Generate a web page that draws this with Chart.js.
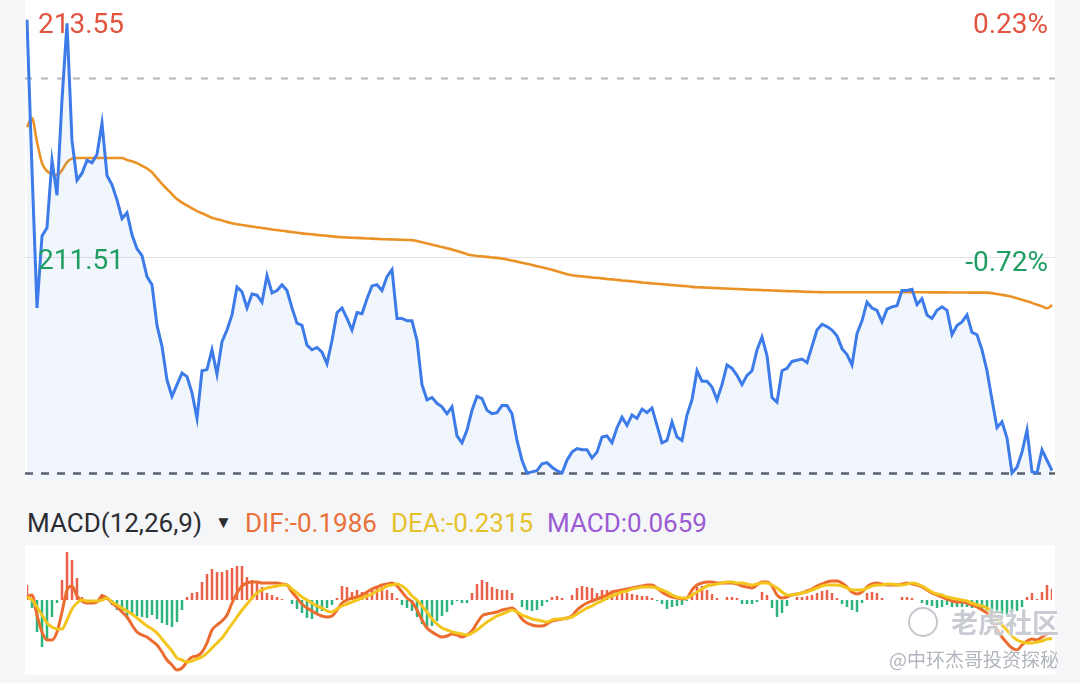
<!DOCTYPE html>
<html>
<head>
<meta charset="utf-8">
<script src="https://cdn.jsdelivr.net/npm/chart.js@4.4.0/dist/chart.umd.min.js"></script>
<style>
html, body { margin: 0; padding: 0; }
body { width: 1080px; height: 683px; background: #f5f6f8; position: relative; overflow: hidden; font-family: Roboto, "Noto Sans", sans-serif; }
.panel { position: absolute; background: #fff; }
#pricePanel { left: 25px; top: 0; width: 1030px; height: 480px; }
#macdPanel { left: 25px; top: 545px; width: 1030px; height: 130px; }
.lbl { position: absolute; font-size: 28px; line-height: 28px; white-space: nowrap; z-index: 5; }
.up { color: #e2543f; }
.down { color: #1f9e63; }
.hdr { position: absolute; top: 510px; font-size: 26px; line-height: 26px; white-space: nowrap; }
.wm { position: absolute; white-space: nowrap; z-index: 6; font-family: "Noto Sans CJK SC", sans-serif; text-shadow: 0 0 2px #fff, 0 0 2px #fff; }
</style>
</head>
<body>
<div class="panel" id="pricePanel"><canvas id="priceChart"></canvas></div>
<div class="panel" id="macdPanel"><canvas id="macdChart"></canvas></div>

<div class="lbl up" style="left:38px; top:10px;">213.55</div>
<div class="lbl up" style="right:32px; top:10px;">0.23%</div>
<div class="lbl down" style="left:38px; top:246px;">211.51</div>
<div class="lbl down" style="right:32px; top:248px;">-0.72%</div>

<div class="hdr" style="left:27px; color:#2b2d33;">MACD(12,26,9)</div>
<div class="hdr" style="left:215px; top:514px; font-size:17px; line-height:17px; color:#2b2d33;">▼</div>
<div class="hdr" style="left:245px; color:#e8703a;">DIF:-0.1986</div>
<div class="hdr" style="left:391px; color:#e6c12c;">DEA:-0.2315</div>
<div class="hdr" style="left:547px; color:#9b5bd3;">MACD:0.0659</div>

<div style="position:absolute; left:908px; top:607px; width:26px; height:26px; border:2px solid rgba(170,175,185,0.7); border-radius:50%; z-index:6;"></div>
<div class="wm" style="left:951px; top:605px; font-size:27px; line-height:34px; font-weight:700; color:rgba(165,170,180,0.6);">老虎社区</div>
<div class="wm" style="left:889px; top:647px; font-size:19px; line-height:24px; color:rgba(150,155,165,0.75);">@中环杰哥投资探秘</div>

<script>
// intraday price, one sample every ~2 minutes
const prices = [
  213.55, 212.26, 211.07, 211.69, 211.76, 212.34, 212.04, 212.86, 213.52, 212.51,
  212.17, 212.23, 212.34, 212.32, 212.39, 212.66, 212.21, 212.13, 212.00, 211.84,
  211.89, 211.70, 211.58, 211.52, 211.34, 211.27, 210.92, 210.74, 210.45, 210.31,
  210.41, 210.51, 210.48, 210.34, 210.12, 210.53, 210.54, 210.71, 210.50, 210.78,
  210.88, 211.01, 211.25, 211.21, 211.07, 211.19, 211.18, 211.12, 211.35, 211.20,
  211.22, 211.27, 211.22, 211.07, 210.94, 210.92, 210.75, 210.71, 210.73, 210.69,
  210.59, 210.79, 211.03, 211.07, 210.98, 210.88, 211.03, 211.02, 211.15, 211.26,
  211.27, 211.22, 211.34, 211.40, 210.98, 210.98, 210.96, 210.96, 210.79, 210.41,
  210.28, 210.30, 210.25, 210.22, 210.16, 210.22, 209.97, 209.91, 210.02, 210.19,
  210.31, 210.29, 210.19, 210.16, 210.17, 210.23, 210.23, 210.16, 209.93, 209.76,
  209.65, 209.66, 209.67, 209.73, 209.74, 209.70, 209.67, 209.65, 209.76, 209.83,
  209.86, 209.85, 209.85, 209.78, 209.83, 209.96, 209.97, 209.91, 210.04, 210.13,
  210.06, 210.15, 210.12, 210.20, 210.17, 210.21, 210.06, 209.91, 209.93, 210.09,
  209.96, 209.93, 210.15, 210.28, 210.53, 210.44, 210.44, 210.39, 210.28, 210.41,
  210.58, 210.55, 210.49, 210.41, 210.49, 210.53, 210.71, 210.82, 210.66, 210.30,
  210.26, 210.53, 210.55, 210.61, 210.62, 210.63, 210.60, 210.74, 210.88, 210.93,
  210.91, 210.88, 210.83, 210.72, 210.67, 210.58, 210.85, 210.96, 211.12, 211.07,
  211.05, 210.95, 211.06, 211.08, 211.09, 211.22, 211.22, 211.23, 211.10, 211.15,
  211.01, 210.98, 211.05, 211.08, 211.05, 210.84, 210.92, 210.95, 211.01, 210.86,
  210.84, 210.71, 210.53, 210.28, 210.04, 210.09, 209.95, 209.65, 209.70, 209.83,
  210.02, 209.66, 209.65, 209.85, 209.76, 209.67
];

// average price line
const avgPrices = [
  212.627, 212.704, 212.497, 212.317, 212.248, 212.222, 212.213, 212.256, 212.325, 212.355,
  212.360, 212.360, 212.360, 212.360, 212.360, 212.360, 212.360, 212.360, 212.360, 212.360,
  212.343, 212.332, 212.316, 212.293, 212.270, 212.237, 212.187, 212.137, 212.093, 212.050,
  212.007, 211.977, 211.952, 211.927, 211.904, 211.885, 211.866, 211.846, 211.834, 211.823,
  211.811, 211.800, 211.790, 211.784, 211.778, 211.771, 211.765, 211.759, 211.752, 211.746,
  211.741, 211.735, 211.729, 211.723, 211.717, 211.712, 211.708, 211.704, 211.699, 211.695,
  211.691, 211.686, 211.682, 211.679, 211.677, 211.674, 211.673, 211.671, 211.668, 211.667,
  211.665, 211.662, 211.661, 211.660, 211.658, 211.657, 211.655, 211.654, 211.646, 211.636,
  211.625, 211.615, 211.605, 211.594, 211.584, 211.574, 211.561, 211.548, 211.533, 211.523,
  211.518, 211.514, 211.510, 211.505, 211.501, 211.495, 211.487, 211.478, 211.469, 211.460,
  211.450, 211.440, 211.430, 211.420, 211.410, 211.399, 211.386, 211.373, 211.360, 211.351,
  211.346, 211.342, 211.338, 211.333, 211.329, 211.325, 211.320, 211.316, 211.312, 211.307,
  211.303, 211.299, 211.295, 211.290, 211.286, 211.282, 211.278, 211.275, 211.271, 211.267,
  211.264, 211.260, 211.257, 211.252, 211.249, 211.247, 211.245, 211.243, 211.241, 211.239,
  211.237, 211.235, 211.233, 211.231, 211.229, 211.227, 211.226, 211.224, 211.222, 211.221,
  211.219, 211.217, 211.215, 211.214, 211.213, 211.211, 211.209, 211.208, 211.207, 211.206,
  211.206, 211.206, 211.206, 211.206, 211.206, 211.206, 211.206, 211.206, 211.206, 211.206,
  211.206, 211.206, 211.206, 211.206, 211.206, 211.206, 211.206, 211.205, 211.205, 211.205,
  211.205, 211.204, 211.204, 211.204, 211.204, 211.203, 211.203, 211.203, 211.203, 211.202,
  211.202, 211.202, 211.202, 211.198, 211.190, 211.183, 211.176, 211.166, 211.153, 211.140,
  211.127, 211.114, 211.098, 211.084, 211.068, 211.094
];

const prevClose = 213.05;
const midLevel = 211.51;
const dayLow = 209.65;
const priceMin = 209.59;
const priceMax = 213.72;

// MACD(12,26,9)
const dif = [
  0.018, 0.030, -0.090, -0.192, -0.240, -0.240, -0.192, -0.072, 0.060, 0.084,
  0.024, -0.006, -0.018, -0.018, -0.012, 0.024, 0.012, -0.018, -0.042, -0.072,
  -0.102, -0.150, -0.192, -0.210, -0.222, -0.246, -0.270, -0.312, -0.360, -0.390,
  -0.420, -0.408, -0.372, -0.342, -0.336, -0.312, -0.258, -0.180, -0.150, -0.126,
  -0.090, -0.018, 0.042, 0.084, 0.102, 0.108, 0.108, 0.102, 0.102, 0.102,
  0.102, 0.096, 0.090, 0.048, 0.012, -0.024, -0.048, -0.066, -0.084, -0.096,
  -0.102, -0.096, -0.060, -0.018, 0, 0.012, 0.018, 0.030, 0.048, 0.066,
  0.078, 0.090, 0.096, 0.102, 0.084, 0.048, 0.012, -0.012, -0.060, -0.120,
  -0.168, -0.192, -0.210, -0.222, -0.216, -0.204, -0.210, -0.222, -0.210, -0.186,
  -0.138, -0.096, -0.084, -0.078, -0.072, -0.060, -0.054, -0.048, -0.072, -0.114,
  -0.138, -0.150, -0.156, -0.156, -0.144, -0.126, -0.120, -0.114, -0.108, -0.096,
  -0.060, -0.036, -0.018, -0.006, 0.006, 0.018, 0.030, 0.048, 0.054, 0.060,
  0.066, 0.072, 0.078, 0.084, 0.090, 0.090, 0.072, 0.048, 0.030, 0.018,
  0.012, 0.006, 0.012, 0.060, 0.090, 0.102, 0.108, 0.108, 0.102, 0.102,
  0.102, 0.102, 0.096, 0.084, 0.078, 0.072, 0.090, 0.108, 0.108, 0.084,
  0.030, 0.012, 0.018, 0.030, 0.036, 0.042, 0.054, 0.066, 0.084, 0.096,
  0.108, 0.114, 0.114, 0.102, 0.078, 0.048, 0.036, 0.048, 0.078, 0.096,
  0.102, 0.096, 0.090, 0.090, 0.090, 0.096, 0.102, 0.096, 0.090, 0.078,
  0.060, 0.042, 0.030, 0.018, 0.006, -0.006, -0.012, -0.012, -0.018, -0.030,
  -0.042, -0.060, -0.078, -0.120, -0.180, -0.222, -0.258, -0.288, -0.300, -0.270,
  -0.246, -0.234, -0.240, -0.222, -0.204, -0.1986
];

const dea = [
  0.018, 0, -0.042, -0.090, -0.138, -0.162, -0.174, -0.174, -0.120, -0.054,
  -0.018, 0, -0.006, -0.006, -0.006, 0, 0.012, -0.012, -0.030, -0.048,
  -0.066, -0.084, -0.108, -0.132, -0.156, -0.174, -0.198, -0.234, -0.270, -0.306,
  -0.348, -0.360, -0.372, -0.366, -0.354, -0.342, -0.318, -0.288, -0.258, -0.228,
  -0.186, -0.144, -0.102, -0.060, -0.024, 0.012, 0.042, 0.060, 0.072, 0.078,
  0.084, 0.090, 0.090, 0.066, 0.042, 0.018, 0, -0.018, -0.036, -0.048,
  -0.066, -0.072, -0.054, -0.036, -0.024, -0.012, 0, 0.012, 0.024, 0.036,
  0.054, 0.066, 0.084, 0.090, 0.096, 0.084, 0.060, 0.024, 0, -0.036,
  -0.072, -0.114, -0.144, -0.168, -0.180, -0.192, -0.198, -0.204, -0.210, -0.198,
  -0.180, -0.156, -0.132, -0.114, -0.096, -0.084, -0.072, -0.060, -0.072, -0.090,
  -0.102, -0.114, -0.120, -0.126, -0.132, -0.120, -0.114, -0.114, -0.108, -0.102,
  -0.084, -0.066, -0.048, -0.036, -0.018, -0.006, 0.012, 0.024, 0.036, 0.048,
  0.054, 0.066, 0.072, 0.078, 0.078, 0.078, 0.072, 0.060, 0.048, 0.030,
  0.018, 0.012, 0.012, 0.030, 0.048, 0.066, 0.084, 0.090, 0.096, 0.102,
  0.108, 0.108, 0.102, 0.102, 0.096, 0.090, 0.096, 0.102, 0.102, 0.090,
  0.072, 0.048, 0.030, 0.030, 0.036, 0.042, 0.048, 0.060, 0.072, 0.084,
  0.090, 0.090, 0.090, 0.084, 0.072, 0.060, 0.060, 0.060, 0.072, 0.084,
  0.090, 0.090, 0.096, 0.096, 0.090, 0.090, 0.096, 0.102, 0.096, 0.084,
  0.066, 0.048, 0.036, 0.030, 0.018, 0.012, 0.006, 0, -0.006, -0.018,
  -0.030, -0.036, -0.048, -0.078, -0.114, -0.150, -0.180, -0.216, -0.240, -0.252,
  -0.258, -0.258, -0.252, -0.246, -0.234, -0.2315
];

const macdBars = [
  0.090, -0.048, -0.192, -0.282, -0.240, -0.102, -0.018, 0.120, 0.288, 0.240,
  0.132, 0.018, -0.012, -0.012, -0.012, 0.036, 0.012, -0.030, -0.060, -0.078,
  -0.102, -0.090, -0.096, -0.102, -0.108, -0.090, -0.114, -0.138, -0.150, -0.162,
  -0.132, -0.060, 0.018, 0.042, 0.048, 0.108, 0.156, 0.186, 0.168, 0.168,
  0.180, 0.192, 0.204, 0.204, 0.138, 0.120, 0.102, 0.078, 0.042, 0.030,
  0.018, 0.006, 0, -0.024, -0.054, -0.078, -0.108, -0.114, -0.090, -0.066,
  -0.048, -0.030, 0.012, 0.084, 0.078, 0.048, 0.060, 0.048, 0.054, 0.060,
  0.072, 0.078, 0.060, 0.042, 0.012, -0.030, -0.048, -0.066, -0.102, -0.144,
  -0.168, -0.156, -0.126, -0.096, -0.072, -0.030, -0.006, -0.018, -0.018, 0.042,
  0.096, 0.120, 0.108, 0.078, 0.066, 0.060, 0.060, 0.042, 0, -0.042,
  -0.060, -0.066, -0.060, -0.036, -0.012, 0.018, 0.024, 0.012, 0, 0.030,
  0.072, 0.084, 0.078, 0.072, 0.042, 0.060, 0.060, 0.048, 0.030, 0.042,
  0.042, 0.036, 0.030, 0.024, 0.024, 0.012, -0.006, -0.024, -0.054, -0.042,
  -0.036, -0.030, -0.006, 0.036, 0.078, 0.084, 0.060, 0.036, 0.012, 0,
  0.018, 0.018, 0.012, -0.024, -0.024, -0.024, -0.012, 0.048, 0.030, -0.048,
  -0.102, -0.078, -0.036, 0, 0.018, 0.018, 0.024, 0.030, 0.042, 0.054,
  0.060, 0.042, 0.012, -0.024, -0.042, -0.060, -0.072, -0.018, 0.042, 0.048,
  0.042, 0.012, 0, 0, 0, 0.018, 0.018, 0.012, 0, -0.018,
  -0.030, -0.036, -0.048, -0.042, -0.030, -0.042, -0.042, -0.042, -0.042, -0.048,
  -0.048, -0.054, -0.060, -0.072, -0.078, -0.084, -0.090, -0.078, -0.066, -0.042,
  0.018, 0.042, 0.006, 0.048, 0.090, 0.0659
];
const macdMin = -0.45;
const macdMax = 0.33;

const minutes = prices.map(function (p, i) { return i; });

/* horizontal reference lines, drawn through the y scale */
const refLines = {
    id: 'refLines',
    beforeDatasetsDraw: function (chart, args, opts) {
        var ctx = chart.ctx, y = chart.scales.y;
        (opts.lines || []).forEach(function (l) {
            var py = Math.round(y.getPixelForValue(l.value)) + 0.5;
            ctx.save();
            ctx.strokeStyle = l.color;
            ctx.lineWidth = l.width;
            ctx.setLineDash(l.dash || []);
            ctx.beginPath();
            ctx.moveTo(0, py);
            ctx.lineTo(chart.width, py);
            ctx.stroke();
            ctx.restore();
        });
    }
};

/* Preço */
new Chart(document.getElementById('priceChart'), {
    type: 'line',
    data: {
        labels: minutes,
        datasets: [{
            data: prices,
            borderColor: '#3d7be8',
            borderWidth: 3,
            backgroundColor: 'rgba(61, 123, 232, 0.07)',
            fill: 'start',
            pointRadius: 0,
            tension: 0,
            order: 1
        }, {
            data: avgPrices,
            borderColor: '#eb9226',
            borderWidth: 2.6,
            fill: false,
            pointRadius: 0,
            cubicInterpolationMode: 'monotone',
            order: 2
        }]
    },
    options: {
        responsive: true,
        maintainAspectRatio: false,
        animation: false,
        events: [],
        layout: { padding: { left: 2, right: 3, top: 0, bottom: 0 } },
        plugins: {
            legend: { display: false },
            tooltip: { enabled: false },
            refLines: {
                lines: [
                    { value: prevClose, color: '#b4b6bb', width: 2, dash: [7, 9] },
                    { value: midLevel, color: '#e2e3e6', width: 1, dash: [] },
                    { value: dayLow, color: '#5b5e66', width: 2.5, dash: [8, 8] }
                ]
            }
        },
        scales: {
            x: { display: false, offset: false },
            y: { display: false, min: priceMin, max: priceMax }
        }
    },
    plugins: [refLines]
});

/* MACD */
new Chart(document.getElementById('macdChart'), {
    type: 'bar',
    data: {
        labels: minutes,
        datasets: [{
            type: 'bar',
            data: macdBars,
            backgroundColor: function (c) { return c.raw >= 0 ? '#e9604b' : '#2db47d'; },
            barPercentage: 0.5,
            categoryPercentage: 1,
            order: 3
        }, {
            type: 'line',
            data: dif,
            borderColor: '#ec6c30',
            borderWidth: 3,
            pointRadius: 0,
            cubicInterpolationMode: 'monotone',
            order: 2
        }, {
            type: 'line',
            data: dea,
            borderColor: '#f3c51d',
            borderWidth: 3,
            pointRadius: 0,
            cubicInterpolationMode: 'monotone',
            order: 1
        }]
    },
    options: {
        responsive: true,
        maintainAspectRatio: false,
        animation: false,
        events: [],
        layout: { padding: { left: 2, right: 3, top: 0, bottom: 0 } },
        plugins: { legend: { display: false }, tooltip: { enabled: false } },
        scales: {
            x: { display: false, offset: false, grid: { offset: false } },
            y: { display: false, min: macdMin, max: macdMax }
        }
    }
});
</script>
</body>
</html>
